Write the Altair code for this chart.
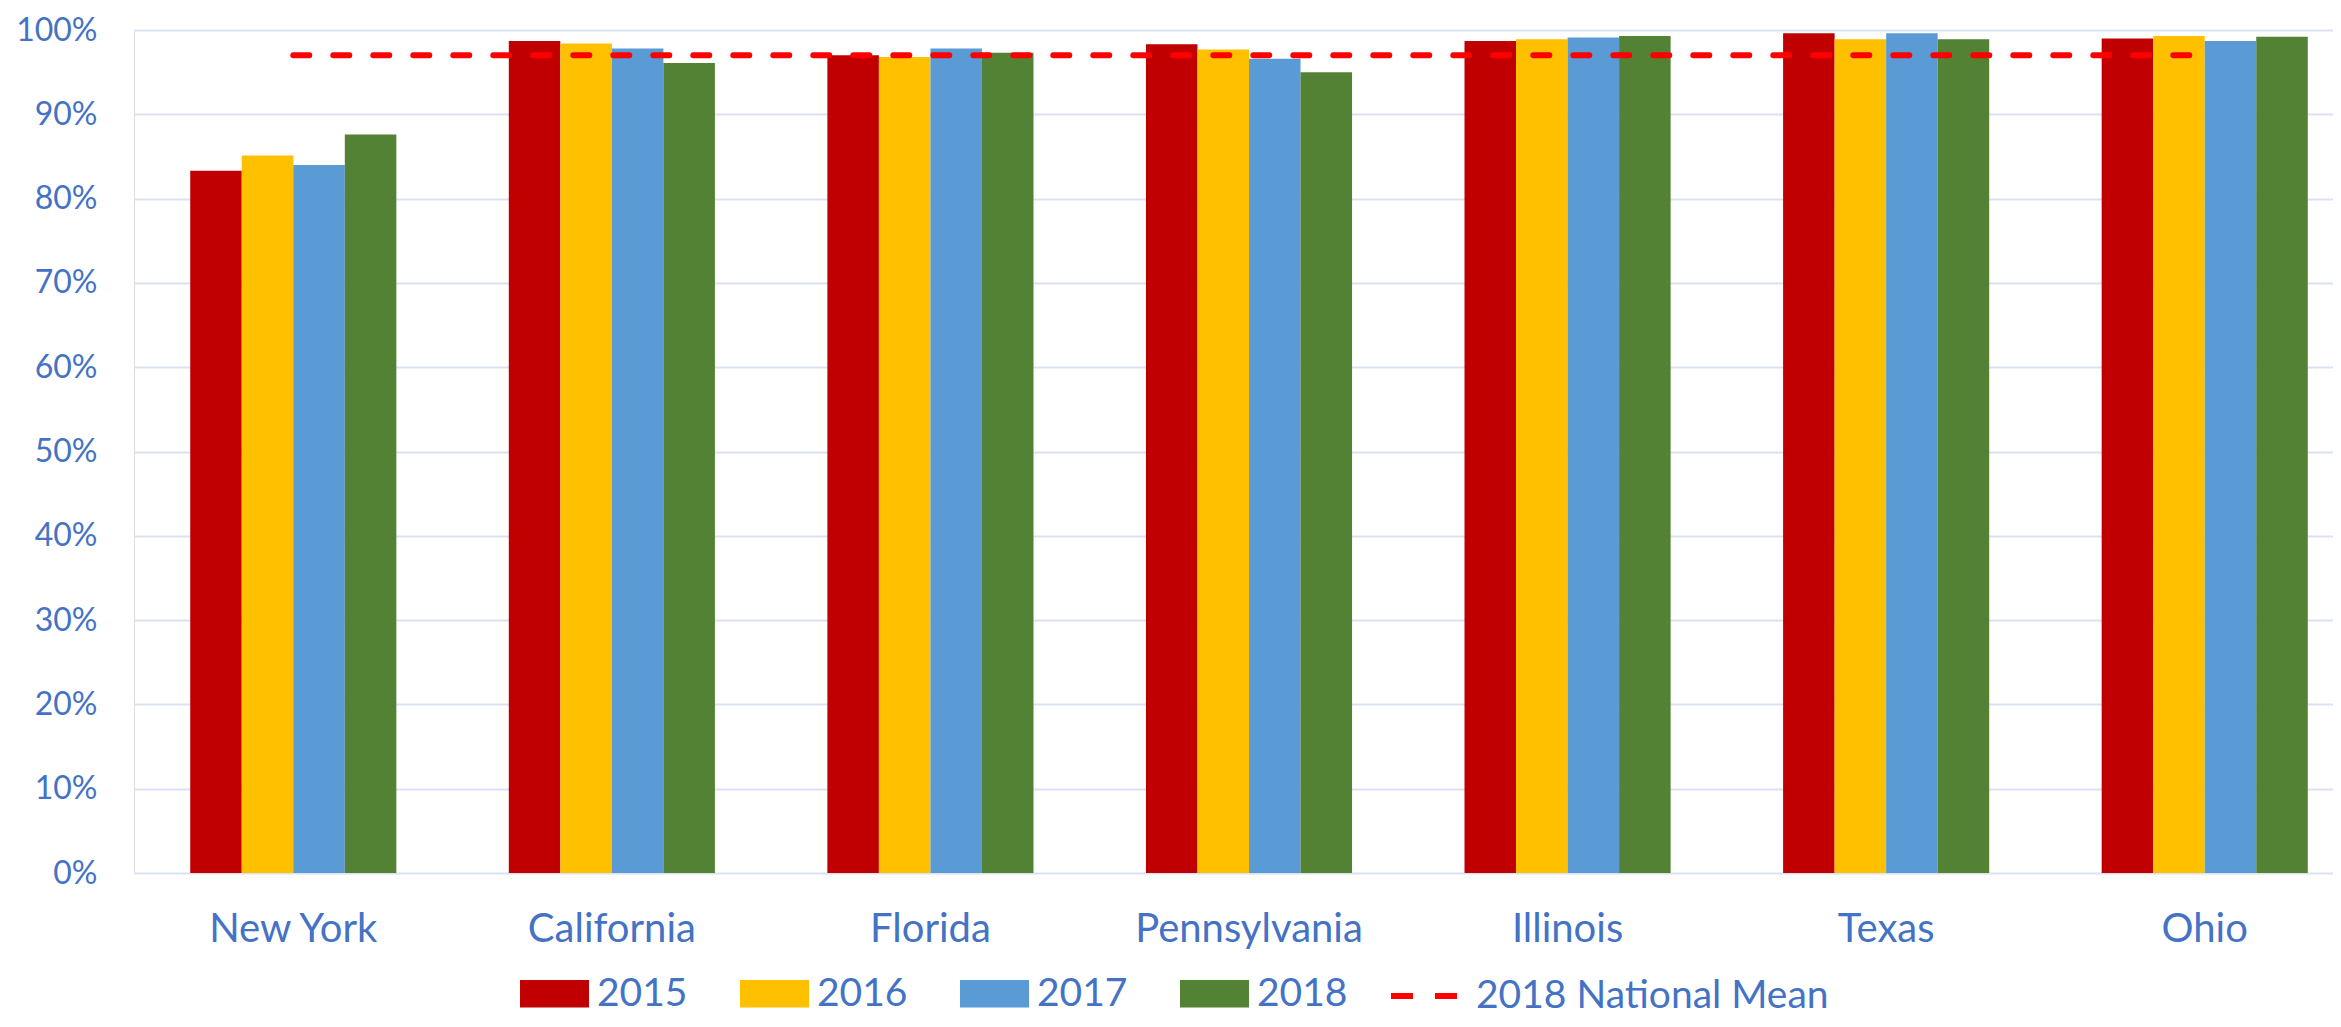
import altair as alt
import pandas as pd

states = ["New York", "California", "Florida", "Pennsylvania", "Illinois", "Texas", "Ohio"]
years = ["2015", "2016", "2017", "2018"]
v2015 = [0.833, 0.987, 0.970, 0.983, 0.987, 0.996, 0.990]
v2016 = [0.851, 0.984, 0.968, 0.977, 0.989, 0.989, 0.993]
v2017 = [0.840, 0.978, 0.978, 0.966, 0.991, 0.996, 0.987]
v2018 = [0.876, 0.961, 0.973, 0.950, 0.993, 0.989, 0.992]
national_mean_2018 = [0.970] * len(states)
mean_label = "2018 National Mean"

bar_colors = ["#C00000", "#FFC000", "#5B9BD5", "#548235"]
text_color = "#4472C4"
font = "Lato"

rows = []
for yr, vals in zip(years, [v2015, v2016, v2017, v2018]):
    for s, v in zip(states, vals):
        rows.append({"state": s, "year": yr, "value": v})
bars_df = pd.DataFrame(rows)
mean_df = pd.DataFrame({"state": states, "value": national_mean_2018, "series": [mean_label] * len(states)})

x_scale = alt.Scale(domain=states, range=[0, 2230], paddingInner=0.353, paddingOuter=0.1765)
y_scale = alt.Scale(domain=[0, 1], nice=False)

x_axis = alt.Axis(title=None, labelAngle=0, ticks=False, domain=False, grid=False, labelLimit=600,
                  labelFont=font, labelFontSize=40, labelColor=text_color, labelPadding=36)
y_axis = alt.Axis(title=None, format=".0%", values=[i / 10 for i in range(11)], ticks=False,
                  domain=False, grid=True, gridColor="#D9E1F2", gridWidth=2,
                  labelFont=font, labelFontSize=32, labelColor=text_color, labelPadding=37)

bars = alt.Chart(bars_df).mark_bar().encode(
    x=alt.X("state:N", scale=x_scale, axis=x_axis, sort=states),
    xOffset=alt.XOffset("year:N", sort=years, scale=alt.Scale(paddingInner=0, paddingOuter=0)),
    y=alt.Y("value:Q", scale=y_scale, axis=y_axis),
    color=alt.Color("year:N", scale=alt.Scale(domain=years, range=bar_colors),
                    legend=alt.Legend(orient="none", legendX=386, legendY=929, direction="horizontal",
                                      title=None, symbolType="M-1,-0.4H1V0.4H-1Z", symbolSize=4761,
                                      symbolStrokeWidth=0, labelFont=font, labelFontSize=39,
                                      labelColor=text_color, labelOffset=8, columnPadding=52,
                                      labelLimit=600, padding=0)),
)

line = alt.Chart(mean_df).mark_line(strokeWidth=6, strokeDash=[16, 24], strokeCap="round").encode(
    x=alt.X("state:N", scale=x_scale, sort=states),
    y=alt.Y("value:Q", scale=y_scale),
    stroke=alt.Stroke("series:N", scale=alt.Scale(domain=[mean_label], range=["#FF0000"]),
                      legend=alt.Legend(orient="none", legendX=1254, legendY=929, direction="horizontal",
                                        title=None, symbolType="stroke", symbolSize=4624,
                                        symbolStrokeWidth=6, symbolDash=[22, 22],
                                        labelFont=font, labelFontSize=39, labelColor=text_color,
                                        labelOffset=14, labelLimit=600, padding=0)),
)

chart = alt.layer(bars, line).properties(
    width=2199,
    height=843,
    padding={"left": 126, "top": 22, "right": 0, "bottom": 146},
    autosize=alt.AutoSizeParams(type="none"),
).configure_view(stroke=None).configure(background="white")

chart.save("out.html", embed_options={"renderer": "svg", "actions": False})
